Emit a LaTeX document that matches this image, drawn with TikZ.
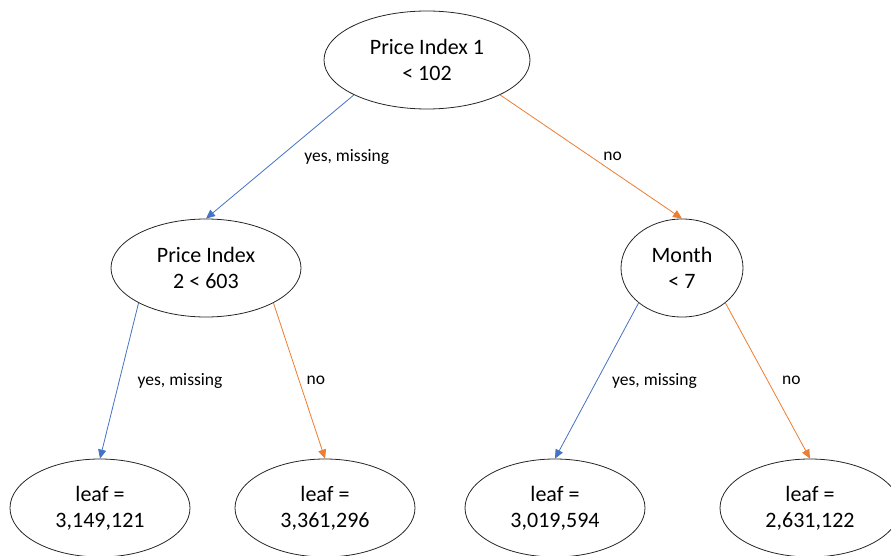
\documentclass[tikz,border=0pt]{standalone}
\usepackage{fontspec}
\setmainfont{Carlito}
\usepackage{xcolor}
\usetikzlibrary{shapes.geometric, arrows.meta, positioning}
\definecolor{yesblue}{HTML}{4472C4}
\definecolor{noorange}{HTML}{ED7D31}
\definecolor{outline}{HTML}{262626}

\begin{document}
\begin{tikzpicture}[
    x=1pt, y=1pt,
    split/.style={ellipse, draw=outline, line width=0.8pt, align=center, minimum height=98pt, inner sep=0pt, font=\fontsize{22}{26}\selectfont},
    leaf/.style={split, minimum width=180pt},
    yesarrow/.style={-{Triangle[length=9pt, width=8pt]}, draw=yesblue, line width=0.8pt},
    noarrow/.style={-{Triangle[length=9pt, width=8pt]}, draw=noorange, line width=0.8pt},
    edgelabel/.style={font=\fontsize{17.5}{20}\selectfont, inner sep=2pt}
]
\useasboundingbox (0,0) rectangle (891,-556);

% Nodes
\node[split, minimum width=206pt] (price1) at (427,-60) {Price Index 1\\< 102};
\node[split, minimum width=190pt] (price2) at (206,-268) {Price Index\\2 < 603};
\node[split, minimum width=122pt] (month) at (682,-268) {Month\\< 7};
\node[leaf] (leafa) at (100,-508) {leaf =\\3,149,121};
\node[leaf] (leafb) at (325,-508) {leaf =\\3,361,296};
\node[leaf] (leafc) at (555,-508) {leaf =\\3,019,594};
\node[leaf] (leafd) at (810,-508) {leaf =\\2,631,122};

% Arrows
\draw[yesarrow] (price1.south west) -- node[edgelabel, right=22pt] {yes, missing} (price2.north);
\draw[noarrow] (price1.south east) -- node[edgelabel, right=10pt] {no} (month.north);
\draw[yesarrow] (price2.south west) -- node[edgelabel, right=16pt] {yes, missing} (leafa.north);
\draw[noarrow] (price2.south east) -- node[edgelabel, right=5pt] {no} (leafb.north);
\draw[yesarrow] (month.south west) -- node[edgelabel, right=13pt] {yes, missing} (leafc.north);
\draw[noarrow] (month.south east) -- node[edgelabel, right=12pt] {no} (leafd.north);

\end{tikzpicture}
\end{document}
